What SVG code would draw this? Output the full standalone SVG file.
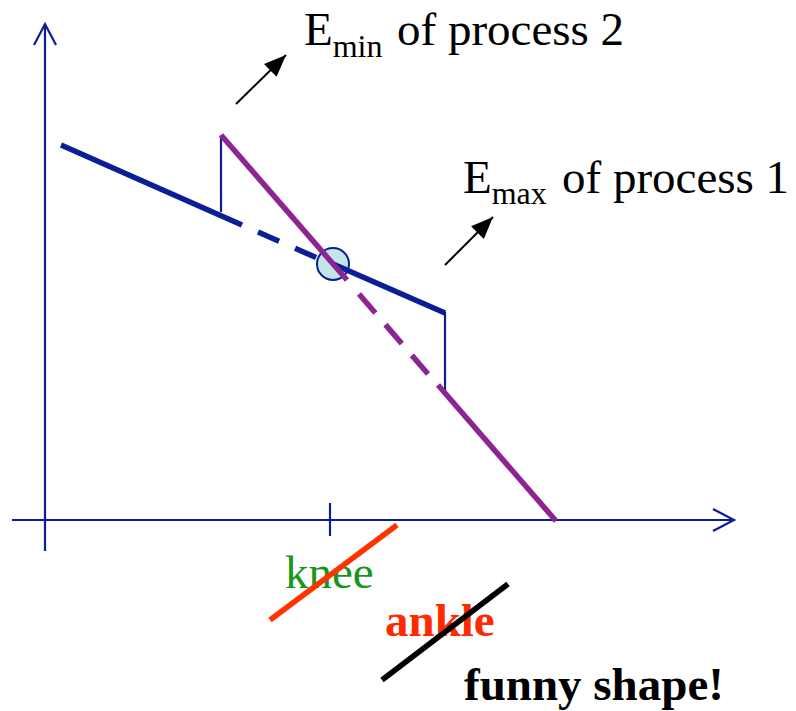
<svg xmlns="http://www.w3.org/2000/svg" width="796" height="711" viewBox="0 0 796 711">
<style>
.ax{stroke:#0A1E96;stroke-width:2.2;fill:none}
.bl{stroke:#0A1E96;stroke-width:5.5;fill:none}
.pu{stroke:#8E2392;stroke-width:5.5;fill:none}
.thin{stroke:#0A1E96;stroke-width:2.2;fill:none}
.arr{stroke:#000;stroke-width:2;fill:none}
.t{font-family:"Liberation Serif","Times New Roman",serif;font-size:47px}
.b{font-weight:bold}
</style>
<defs>
<marker id="ah" markerUnits="userSpaceOnUse" markerWidth="24" markerHeight="20" refX="22" refY="9" orient="auto" viewBox="0 0 24 18">
<path d="M0,0 L22,9 L0,18 Z" fill="#000"/>
</marker>
</defs>
<g id="axes">
<line class="ax" x1="45" y1="24" x2="45" y2="551"/>
<polyline class="ax" points="34,45 45,24 56,45"/>
<line class="ax" x1="12" y1="520" x2="734" y2="520"/>
<polyline class="ax" points="713,509 734,520 713,531"/>
<line class="ax" x1="330" y1="503" x2="330" y2="536"/>
</g>
<g id="intersection">
<circle cx="333" cy="264" r="16" fill="#C4E5E8" stroke="#0A1E96" stroke-width="2"/>
</g>
<g id="connectors">
<line class="thin" x1="221" y1="135" x2="221" y2="212"/>
<line class="thin" x1="445" y1="312" x2="445" y2="390"/>
<line class="bl" x1="61" y1="145" x2="242" y2="225"/>
<path class="bl" d="M258,232 L317,258" stroke-dasharray="23 17.5"/>
<line class="bl" x1="333" y1="264" x2="445" y2="313"/>
<line class="pu" x1="221" y1="135" x2="347" y2="280"/>
<path class="pu" d="M359,294 L428,374" stroke-dasharray="25 15.5"/>
<line class="pu" x1="438" y1="385" x2="556" y2="521"/>
<line class="arr" x1="236" y1="104" x2="286" y2="55" marker-end="url(#ah)"/>
<line class="arr" x1="445" y1="265" x2="493" y2="217" marker-end="url(#ah)"/>
</g>
<g id="label-emin">
<text class="t" x="304" y="45">E<tspan font-size="32" dy="12">min</tspan></text>
<text class="t" x="397" y="45">of process 2</text>
</g>
<g id="label-emax">
<text class="t" x="463" y="193">E<tspan font-size="32" dy="11">max</tspan></text>
<text class="t" x="562" y="193">of process 1</text>
</g>
<g id="knee">
<text class="t" x="285" y="588" fill="#17961C">knee</text>
<line x1="270" y1="620" x2="397" y2="525" stroke="#FF3300" stroke-width="5.5"/>
</g>
<g id="ankle">
<text class="t b" x="385" y="636" fill="#FF2A00">ankle</text>
<line x1="382" y1="680" x2="508" y2="584" stroke="#000" stroke-width="5.5"/>
</g>
<g id="funny">
<text class="t b" x="464" y="700" fill="#000">funny shape!</text>
</g>
</svg>
